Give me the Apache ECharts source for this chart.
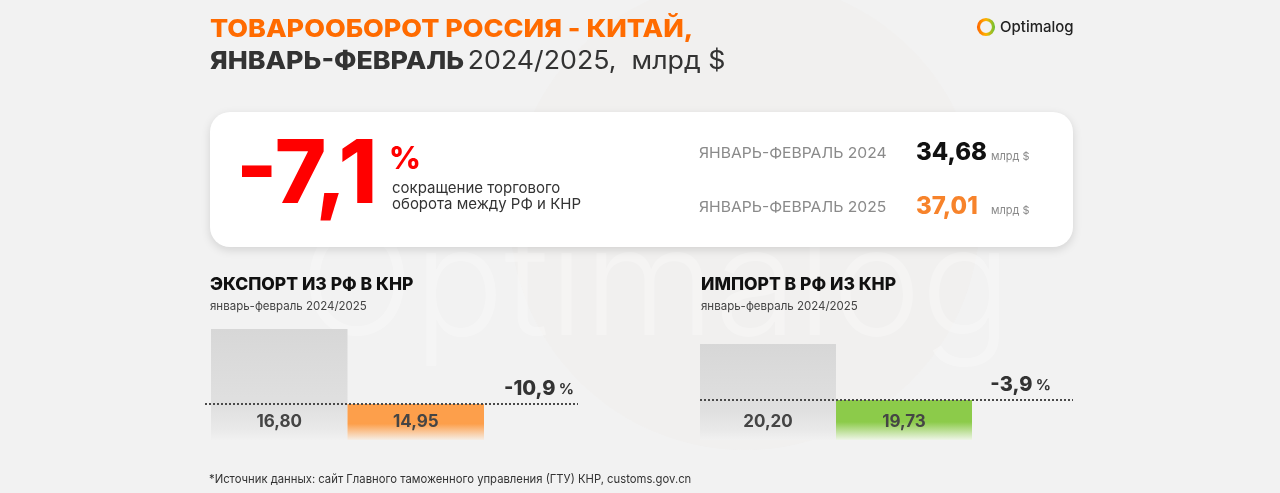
<!DOCTYPE html>
<html>
<head>
<meta charset="utf-8">
<script src="https://cdn.jsdelivr.net/npm/echarts@6/dist/echarts.min.js"></script>
<style>
html,body{margin:0;padding:0;background:#f2f2f2;}
#c{width:1280px;height:493px;}
</style>
</head>
<body>
<div id="c"></div>
<script>
// ---- data ----
const categories = ['2024', '2025'];
const exportValues = [16.80, 14.95];
const importValues = [20.20, 19.73];
const exportChange = '-10,9';
const importChange = '-3,9';
const totalChange = '-7,1';
const totalPeriods = ['ЯНВАРЬ-ФЕВРАЛЬ 2024', 'ЯНВАРЬ-ФЕВРАЛЬ 2025'];
const totalValues = [34.68, 37.01];

const FONT = 'Inter, "Noto Sans", sans-serif';
const fmt = v => v.toFixed(2).replace('.', ',');

function grad(stops) {
  return new echarts.graphic.LinearGradient(0, 0, 0, 1, stops.map(c => ({offset: c[0], color: c[1]})));
}
const grayGrad = () => grad([[0, '#d7d7d7'], [0.7, '#e0e0e0'], [0.9, '#e9e9e9'], [1, '#f1f1f1']]);
const orangeGrad = grad([[0, '#fd9f4b'], [0.55, '#fd9f4b'], [1, '#f6eee6']]);
const greenGrad = grad([[0, '#8ccb4a'], [0.55, '#8ccb4a'], [1, '#eef5e6']]);

const labelStyle = {
  show: true, position: 'insideBottom', distance: 10,
  fontFamily: FONT, fontWeight: 700, fontSize: 17, color: '#454545',
  formatter: p => fmt(p.value)
};

const chart = echarts.init(document.getElementById('c'), null, {renderer: 'canvas'});
chart.setOption({
  backgroundColor: '#f2f2f2',
  animation: false,
  grid: [
    {left: 211, top: 329, width: 273, height: 111},
    {left: 700, top: 344, width: 272, height: 96}
  ],
  xAxis: [
    {type: 'category', gridIndex: 0, data: categories, show: false},
    {type: 'category', gridIndex: 1, data: categories, show: false}
  ],
  yAxis: [
    {type: 'value', gridIndex: 0, min: 14.06, max: 16.8, show: false, splitLine: {show: false}},
    {type: 'value', gridIndex: 1, min: 19.394, max: 20.2, show: false, splitLine: {show: false}}
  ],
  series: [
    {
      type: 'bar', xAxisIndex: 0, yAxisIndex: 0, barCategoryGap: '0%', z: 2,
      label: labelStyle,
      data: [
        {value: exportValues[0], itemStyle: {color: grayGrad()}},
        {value: exportValues[1], itemStyle: {color: orangeGrad}}
      ]
    },
    {
      type: 'bar', xAxisIndex: 1, yAxisIndex: 1, barCategoryGap: '0%', z: 2,
      label: labelStyle,
      data: [
        {value: importValues[0], itemStyle: {color: grayGrad()}},
        {value: importValues[1], itemStyle: {color: greenGrad}}
      ]
    }
  ]
});

const yExp = Math.round(chart.convertToPixel({yAxisIndex: 0}, exportValues[1]));
const yImp = Math.round(chart.convertToPixel({yAxisIndex: 1}, importValues[1]));

const g = [];
// faint watermark
g.push({type: 'circle', shape: {cx: 745, cy: 215, r: 235}, style: {fill: 'rgba(236,222,208,0.09)'}, z: -10, silent: true});
g.push({type: 'text', x: 300, y: 215, style: {text: 'Optimalog', fontFamily: FONT, fontSize: 150, fontWeight: 300, fill: 'rgba(255,255,255,0.28)'}, z: -9, silent: true});

// title
g.push({type: 'text', x: 210, y: 29, scaleX: 1.075, style: {text: 'ТОВАРООБОРОТ РОССИЯ - КИТАЙ,', fontFamily: FONT, fontWeight: 800, fontSize: 25, fill: '#ff6b00', verticalAlign: 'middle'}});
g.push({type: 'text', x: 210, y: 61, scaleX: 1.07, style: {
  text: '{b|ЯНВАРЬ-ФЕВРАЛЬ} {r|2024/2025,  млрд $}', verticalAlign: 'middle',
  rich: {
    b: {fontFamily: FONT, fontWeight: 800, fontSize: 25, fill: '#333333', color: '#333333'},
    r: {fontFamily: FONT, fontWeight: 400, fontSize: 25, fill: '#333333', color: '#333333'}
  }
}});

// logo
g.push({type: 'circle', shape: {cx: 986, cy: 27, r: 7.5}, style: {fill: 'none', lineWidth: 3.2,
  stroke: new echarts.graphic.LinearGradient(0, 0, 1, 0, [{offset: 0, color: '#ff5a00'}, {offset: 0.5, color: '#ffb400'}, {offset: 1, color: '#58c43a'}])}});
g.push({type: 'text', x: 1000, y: 27, style: {text: 'Optimalog', fontFamily: FONT, fontWeight: 500, fontSize: 15, fill: '#222222', verticalAlign: 'middle'}});

// card
g.push({type: 'rect', shape: {x: 210, y: 112, width: 863, height: 135, r: 20},
  style: {fill: '#ffffff', shadowBlur: 10, shadowOffsetY: 3, shadowColor: 'rgba(0,0,0,0.13)'}, z: 0});
g.push({type: 'text', x: 236, y: 177, style: {text: totalChange, fontFamily: FONT, fontWeight: 800, fontSize: 88, fill: '#ff0000', verticalAlign: 'middle'}, z: 1});
g.push({type: 'text', x: 389, y: 160, style: {text: '%', fontFamily: FONT, fontWeight: 800, fontSize: 31, fill: '#ff0000', verticalAlign: 'middle'}, z: 1});
g.push({type: 'text', x: 392, y: 188, style: {text: 'сокращение торгового', fontFamily: FONT, fontWeight: 400, fontSize: 15, fill: '#333333', verticalAlign: 'middle'}, z: 1});
g.push({type: 'text', x: 392, y: 204, style: {text: 'оборота между РФ и КНР', fontFamily: FONT, fontWeight: 400, fontSize: 15, fill: '#333333', verticalAlign: 'middle'}, z: 1});

const rowY = [154, 208];
const valColors = ['#111111', '#f7832b'];
totalPeriods.forEach((p, i) => {
  g.push({type: 'text', x: 699, y: rowY[i], scaleX: 1.08, style: {text: p, fontFamily: FONT, fontWeight: 400, fontSize: 14.5, fill: '#8a8a8a', verticalAlign: 'middle'}, z: 1});
  g.push({type: 'text', x: 916, y: rowY[i] - 1, style: {text: fmt(totalValues[i]), fontFamily: FONT, fontWeight: 800, fontSize: 24, fill: valColors[i], verticalAlign: 'middle'}, z: 1});
  g.push({type: 'text', x: 991, y: rowY[i] + 3, style: {text: 'млрд $', fontFamily: FONT, fontWeight: 400, fontSize: 11, fill: '#8a8a8a', verticalAlign: 'middle'}, z: 1});
});

// section titles
const sections = [
  {x: 210, title: 'ЭКСПОРТ ИЗ РФ В КНР'},
  {x: 701, title: 'ИМПОРТ В РФ ИЗ КНР'}
];
sections.forEach(s => {
  g.push({type: 'text', x: s.x, y: 285, style: {text: s.title, fontFamily: FONT, fontWeight: 800, fontSize: 17.5, fill: '#111111', verticalAlign: 'middle'}});
  g.push({type: 'text', x: s.x, y: 307, style: {text: 'январь-февраль 2024/2025', fontFamily: FONT, fontWeight: 400, fontSize: 11.5, fill: '#444444', verticalAlign: 'middle'}});
});

// dotted lines + changes
g.push({type: 'line', shape: {x1: 205, y1: yExp, x2: 578, y2: yExp}, style: {stroke: '#4a4a4a', lineWidth: 2, lineDash: [2, 2]}, z: 5});
g.push({type: 'line', shape: {x1: 700, y1: yImp, x2: 1073, y2: yImp}, style: {stroke: '#4a4a4a', lineWidth: 2, lineDash: [2, 2]}, z: 5});
function changeLabel(xRight, y, txt) {
  return {type: 'text', x: xRight, y: y, style: {
    text: '{n|' + txt + '} {p|%}', align: 'right', verticalAlign: 'bottom',
    rich: {
      n: {fontFamily: FONT, fontWeight: 800, fontSize: 20, color: '#333333', fill: '#333333'},
      p: {fontFamily: FONT, fontWeight: 700, fontSize: 15, color: '#333333', fill: '#333333'}
    }
  }};
}
g.push(changeLabel(574, yExp - 5, exportChange));
g.push(changeLabel(1051, yImp - 5, importChange));

// footer
g.push({type: 'text', x: 209, y: 479, scaleX: 0.94, style: {text: '*Источник данных: сайт Главного таможенного управления (ГТУ) КНР, customs.gov.cn', fontFamily: FONT, fontWeight: 400, fontSize: 12, fill: '#333333', verticalAlign: 'middle'}});

chart.setOption({graphic: g});
</script>
</body>
</html>
